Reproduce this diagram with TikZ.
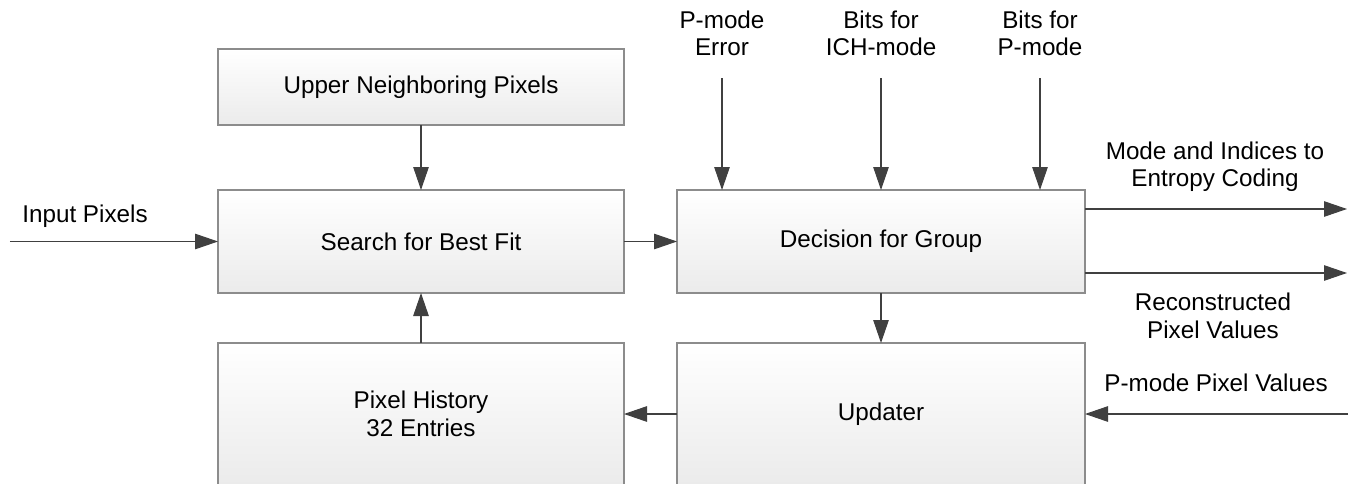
\documentclass[tikz,border=0pt]{standalone}
\usepackage{fontspec}
\setmainfont{Liberation Sans}
\usepackage{tikz}
\usetikzlibrary{calc,arrows.meta}
\definecolor{edge}{HTML}{8C8C8C}
\definecolor{wire}{HTML}{404040}
\definecolor{shade}{HTML}{EBEBEB}
\tikzset{
  blk/.style={draw=edge, line width=0.6pt, top color=white, bottom color=shade, inner sep=0pt, outer sep=0pt, align=center, font=\fontsize{13.8}{15.6}\selectfont},
  flow/.style={draw=wire, line width=0.6pt, -{Triangle[length=4.6mm,width=3.1mm]}},
  lab/.style={align=center, inner sep=0pt, font=\fontsize{13.8}{15.6}\selectfont},
}

\begin{document}
\begin{tikzpicture}
  \useasboundingbox (0,0) rectangle (27.02,9.66);
  % blocks
  \node[blk, minimum width=8.12cm, minimum height=1.52cm] (upper) at (8.42,7.92) {Upper Neighboring Pixels};
  \node[blk, minimum width=8.12cm, minimum height=2.06cm] (search) at (8.42,4.83) {Search for Best Fit};
  \node[blk, minimum width=8.16cm, minimum height=2.06cm] (decide) at (17.62,4.83) {Decision for Group};
  \node[blk, minimum width=8.12cm, minimum height=2.84cm] (hist) at (8.42,1.38) {Pixel History\\32 Entries};
  \node[blk, minimum width=8.16cm, minimum height=2.84cm] (upd) at (17.62,1.38) {Updater};
  % free ends
  \coordinate (inp) at (0.20,4.83);
  \coordinate (perr) at (14.44,8.10);
  \coordinate (bich) at (17.62,8.10);
  \coordinate (bpm) at (20.80,8.10);
  \coordinate (out1) at (26.94,5.48);
  \coordinate (out2) at (26.94,4.20);
  \coordinate (pin) at (26.96,1.38);
  % connectors
  \draw[flow] (inp) -- (search.west);
  \draw[flow] (upper.south) -- (search.north);
  \draw[flow] (hist.north) -- (search.south);
  \draw[flow] (search.east) -- (decide.west);
  \draw[flow] (decide.south) -- (upd.north);
  \draw[flow] (upd.west) -- (hist.east);
  \draw[flow] (pin) -- (upd.east);
  \draw[flow] (decide.east |- out1) -- (out1);
  \draw[flow] (decide.east |- out2) -- (out2);
  \draw[flow] (perr) -- (perr |- decide.north);
  \draw[flow] (bich) -- (bich |- decide.north);
  \draw[flow] (bpm) -- (bpm |- decide.north);
  % labels
  \node[lab] (linp) at (1.70,5.34) {Input Pixels};
  \node[lab] (lperr) at (14.44,8.99) {P-mode\\Error};
  \node[lab] (lbich) at (17.62,8.99) {Bits for\\ICH-mode};
  \node[lab] (lbpm) at (20.80,8.99) {Bits for\\P-mode};
  \node[lab] (lout1) at (24.30,6.32) {Mode and Indices to\\Entropy Coding};
  \node[lab] (lout2) at (24.26,3.34) {Reconstructed\\Pixel Values};
  \node[lab] (lpin) at (24.32,2.00) {P-mode Pixel Values};
\end{tikzpicture}
\end{document}
